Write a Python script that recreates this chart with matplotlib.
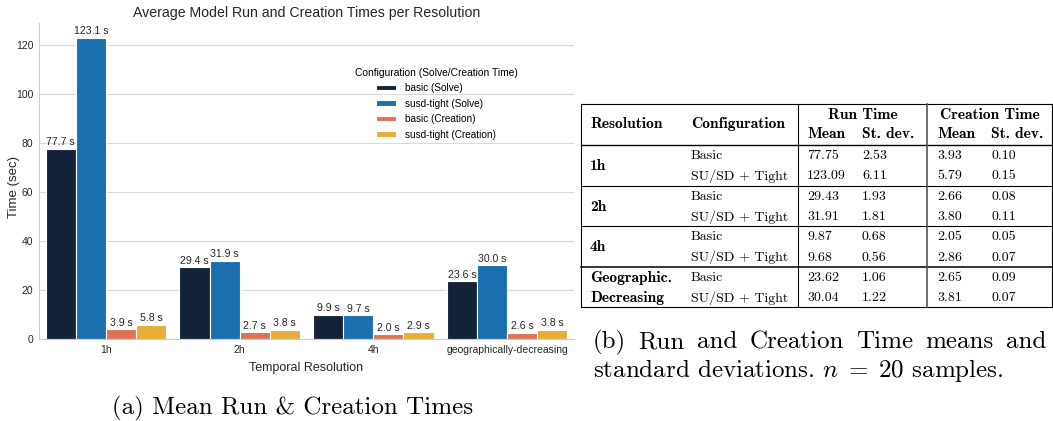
import matplotlib
matplotlib.use("Agg")
import matplotlib.pyplot as plt
import numpy as np
from matplotlib.lines import Line2D

plt.rcParams['font.family'] = ['Liberation Sans', 'DejaVu Sans']
plt.rcParams['mathtext.fontset'] = 'cm'

# data (means in seconds)
resolutions = ["1h", "2h", "4h", "geographically-decreasing"]
series_names = ["basic (Solve)", "susd-tight (Solve)", "basic (Creation)", "susd-tight (Creation)"]
basic_solve = [77.748, 29.43, 9.87, 23.62]
susd_solve = [123.09, 31.91, 9.68, 30.04]
basic_create = [3.93, 2.66, 2.05, 2.65]
susd_create = [5.79, 3.80, 2.86, 3.81]
basic_solve_sd = [2.53, 1.93, 0.68, 1.06]
susd_solve_sd = [6.11, 1.81, 0.56, 1.22]
basic_create_sd = [0.10, 0.08, 0.05, 0.09]
susd_create_sd = [0.15, 0.11, 0.07, 0.07]
table_res = [["1h"], ["2h"], ["4h"], ["Geographic.", "Decreasing"]]
configs = ["Basic", "SU/SD + Tight"]
colors = ["#15233a", "#1b6fae", "#df7356", "#e6ae38"]

W, H = 1053, 421
fig = plt.figure(figsize=(W / 100, H / 100), dpi=100)


def fx(px):
    return px / W


def fy(py):
    return 1 - py / H


# ---- bar chart ----
ax = fig.add_axes([fx(39), fy(339), 535 / W, (339 - 22.5) / H])
series = [basic_solve, susd_solve, basic_create, susd_create]
x = np.arange(len(resolutions))
width = 0.225
for i, (name, vals, c) in enumerate(zip(series_names, series, colors)):
    bars = ax.bar(x + (i - 1.5) * width, vals, width, color=c, edgecolor='white',
                  linewidth=0.8, label=name, zorder=2)
    ax.bar_label(bars, labels=[f"{v:.1f} s" for v in vals], fontsize=7.6, padding=1,
                 color='#262626')

ax.set_xlim(-0.5, len(resolutions) - 0.5)
ax.set_ylim(0, max(susd_solve) * 1.05)
ax.set_yticks(np.arange(0, 121, 20))
ax.set_xticks(x)
ax.set_xticklabels(resolutions)
ax.tick_params(length=0, labelsize=7.5, colors='#262626', pad=4)
ax.grid(axis='y', color='#d9d9d9', lw=0.8, zorder=0)
ax.set_axisbelow(True)
for s in ['top', 'right']:
    ax.spines[s].set_visible(False)
for s in ['left', 'bottom']:
    ax.spines[s].set_color('#cccccc')
ax.set_title("Average Model Run and Creation Times per Resolution", fontsize=10.2,
             color='#262626', pad=4)
ax.set_xlabel("Temporal Resolution", fontsize=9, color='#262626', labelpad=5)
ax.set_ylabel("Time (sec)", fontsize=9.5, color='#262626')
ax.yaxis.set_label_coords(-0.036, 0.48)
ax.legend(title="Configuration (Solve/Creation Time)", frameon=False, fontsize=7.2,
          title_fontsize=7.4, loc='center', bbox_to_anchor=(0.742, 0.744),
          handlelength=2.0, handleheight=0.5, labelspacing=0.55, handletextpad=0.9)

fig.text(fx(293), fy(408), "(a) Mean Run & Creation Times", family='cmr10',
         fontsize=18, ha='center', va='center')

# ---- table ----
fs = 10
fs_bold = 11.2


def t(px, py, s, bold=False, ha='left'):
    fig.text(fx(px), fy(py), s, family='cmb10' if bold else 'cmr10',
             fontsize=fs_bold if bold else fs, ha=ha, va='center')


def hline(py, x0=581, x1=1052, lw=0.8):
    fig.add_artist(Line2D([fx(x0), fx(x1)], [fy(py), fy(py)], transform=fig.transFigure,
                          color='black', lw=lw))


def vline(px, y0=104, y1=307, lw=0.8, color='black'):
    fig.add_artist(Line2D([fx(px), fx(px)], [fy(y0), fy(y1)], transform=fig.transFigure,
                          color=color, lw=lw))


cols = [807, 862, 937, 991]
t(590, 124, "Resolution", bold=True)
t(691, 124, "Configuration", bold=True)
t(863, 115, "Run Time", bold=True, ha='center')
t(990, 115, "Creation Time", bold=True, ha='center')
for cx, lab in zip(cols, ["Mean", "St. dev.", "Mean", "St. dev."]):
    t(cx, 134, lab, bold=True)

row_y0 = 156
row_h = 20.3
for g, res in enumerate(table_res):
    ys = [row_y0 + (2 * g) * row_h, row_y0 + (2 * g + 1) * row_h]
    if len(res) == 1:
        t(590, (ys[0] + ys[1]) / 2, res[0], bold=True)
    else:
        t(590, ys[0], res[0], bold=True)
        t(590, ys[1], res[1], bold=True)
    rows = [
        [basic_solve[g], basic_solve_sd[g], basic_create[g], basic_create_sd[g]],
        [susd_solve[g], susd_solve_sd[g], susd_create[g], susd_create_sd[g]],
    ]
    for k in range(2):
        t(691, ys[k], configs[k])
        for cx, v in zip(cols, rows[k]):
            t(cx, ys[k], f"{v:.2f}")

hline(104)
hline(145, lw=1.0)
hline(185.5)
hline(226)
hline(267, lw=1.1)
hline(307)
vline(581)
vline(798)
vline(927, color='#555555', lw=1.2)
vline(1052)

# caption (b), first line justified
cap_words = "(b) Run and Creation Time means and".split()
texts = [fig.text(0, fy(342), w, family='cmr10', fontsize=18, va='center') for w in cap_words]
r = fig.canvas.get_renderer()
widths = [tx.get_window_extent(r).width for tx in texts]
left, right = 593, 1046
gap = (right - left - sum(widths)) / (len(cap_words) - 1)
xpos = left
for tx, w in zip(texts, widths):
    tx.set_x(fx(xpos))
    xpos += w + gap
fig.text(fx(593), fy(370), r"standard deviations. $n\;=\;20$ samples.", family='cmr10',
         fontsize=18, va='center')

fig.savefig("out.png", dpi=100)
